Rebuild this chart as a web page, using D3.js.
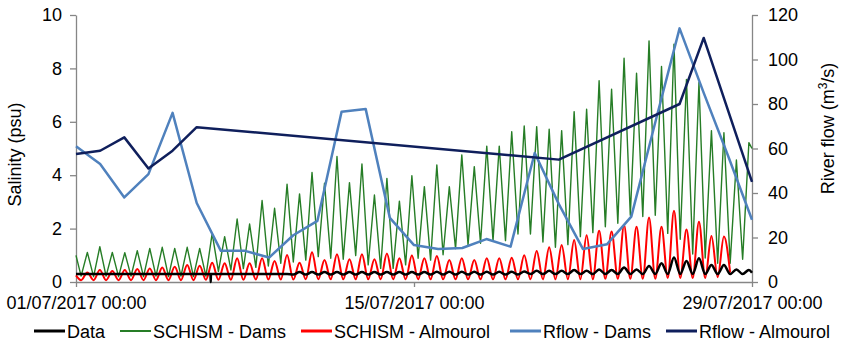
<!DOCTYPE html>
<html><head><meta charset="utf-8">
<script src="https://cdn.jsdelivr.net/npm/d3@7"></script>
<style>
body{margin:0;background:#fff}
svg{display:block}
text{font-family:"Liberation Sans",Arial,sans-serif;fill:#000}
</style>
</head><body>
<svg id="chart" width="850" height="355"></svg>
<script>
// ---------- DATA ----------
const startDate = new Date(Date.UTC(2017, 6, 1));
const xTickDays = [0, 14, 28];
const xTickLabels = ["01/07/2017 00:00", "15/07/2017 00:00", "29/07/2017 00:00"];
const salinityTicks = [0, 2, 4, 6, 8, 10];
const flowTicks = [0, 20, 40, 60, 80, 100, 120];

// tidal extrema sampling (days): first trough and half tidal period
const tideFirstTroughDay = 0.2115;
const tideHalfPeriodDay = 0.2585;

// SCHISM - Dams (green)
const damsStart = 1.0, damsEnd = 5.0;
const damsTroughs = [0.22,0.2,0.22,0.2,0.22,0.2,0.22,0.2,0.22,0.2,0.22,0.4,0.45,0.5,0.55,0.6,0.7,0.75,0.82,0.95,
  0.89,0.85,0.99,0.64,0.51,0.51,0.64,0.89,0.82,1.02,1.25,1.39,1.45,1.55,1.55,1.8,1.8,1.5,1.3,1.4,
  1.7,1.85,2.07,2.2,2.5,2.45,2.5,1.82,1.6,1.05,0.9,0.7,0.7,0.85];
const damsPeaks = [1.11,1.32,1.11,1.10,1.17,1.26,1.30,1.26,1.30,1.26,1.82,1.70,2.36,2.17,3.05,2.76,3.66,3.30,4.10,3.70,
  4.70,3.72,4.42,3.26,3.88,3.03,3.98,3.57,4.38,3.57,4.76,4.32,5.09,5.09,5.63,5.84,5.82,5.72,5.67,6.38,
  6.47,7.54,7.22,8.38,7.82,9.03,8.07,8.91,7.59,7.47,5.67,5.59,4.57,5.22];

// SCHISM - Almourol (red)
const almStart = 0.25;
const almTroughs = [0.07,0.07,0.07,0.07,0.07,0.07,0.07,0.07,0.07,0.07,0.08,0.08,0.08,0.08,0.09,0.09,0.09,0.09,0.1,0.1,
  0.1,0.1,0.1,0.1,0.1,0.1,0.1,0.1,0.1,0.1,0.1,0.1,0.1,0.1,0.1,0.1,0.1,0.1,0.1,0.1,
  0.1,0.1,0.12,0.12,0.12,0.12,0.12,0.15,0.15,0.15,0.15,0.18,0.35];
const almPeaks = [0.36,0.45,0.41,0.45,0.49,0.51,0.54,0.57,0.64,0.61,0.72,0.70,0.89,0.70,0.89,0.79,1.01,0.72,1.11,0.82,
  1.04,0.85,1.04,0.85,1.07,0.89,0.99,0.89,0.97,0.82,0.89,0.82,0.89,0.89,0.91,1.0,1.16,1.30,1.39,1.57,
  1.75,1.92,1.89,2.13,2.07,2.42,2.07,2.67,1.97,2.26,1.72,1.70];

// Data (black)
const obsStart = 0.3, obsEnd = 0.35;
const obsTroughs = [0.3,0.3,0.3,0.3,0.3,0.3,0.3,0.3,0.3,0.3,0.3,0.3,0.3,0.3,0.3,0.3,0.3,0.28,0.28,0.28,
  0.28,0.28,0.28,0.28,0.28,0.28,0.28,0.28,0.28,0.28,0.28,0.28,0.28,0.28,0.28,0.28,0.3,0.3,0.3,0.3,
  0.3,0.3,0.3,0.3,0.3,0.3,0.3,0.3,0.3,0.3,0.3,0.3,0.3,0.3];
const obsPeaks = [0.3,0.3,0.3,0.3,0.3,0.3,0.3,0.3,0.3,0.3,0.3,0.3,0.3,0.3,0.3,0.3,0.3,0.37,0.37,0.37,
  0.37,0.37,0.37,0.37,0.37,0.37,0.37,0.37,0.38,0.38,0.38,0.38,0.38,0.38,0.38,0.39,0.42,0.42,0.42,0.45,
  0.42,0.47,0.45,0.54,0.47,0.6,0.7,0.92,0.79,0.89,0.64,0.64,0.47,0.45];
const obsGapDays = [5.57, 5.58, 5.59];
const obsGapValues = [0.3, 0.0, 0.3];

// Rflow - Dams (daily)
const flowDamsDays = [0,1,2,3,4,5,6,7,8,9,10,11,12,13,14,15,16,17,18,19,20,21,22,23,24,25,26,27,28];
const flowDamsValues = [61,53,38,48.5,76,35.5,14,14,11,21,27.5,76.5,77.7,28.8,16.6,14.8,15.3,19.3,15.9,58,
  35,14.8,17,29.4,72,114,85,57,28];

// Rflow - Almourol
const flowAlmDays = [0,1,2,3,4,5,20,25,26,28];
const flowAlmValues = [57.5,59,65,51,59,69.6,55,80,109.7,45];

const legendNames = ["Data", "SCHISM - Dams", "SCHISM - Almourol", "Rflow - Dams", "Rflow - Almourol"];
const legendColors = ["#000000", "#267d26", "#ff0000", "#4f81bd", "#0f1f5c"];

// ---------- BUILD ----------
const dayMs = 86400000;
const toDate = d => new Date(startDate.getTime() + d * dayMs);

function tidalSeries(start, troughs, peaks, end, endDay) {
  const pts = [{d: 0, v: start}];
  const n = Math.max(troughs.length, peaks.length);
  let j = 0;
  for (let k = 0; k < n; k++) {
    if (k < troughs.length) { pts.push({d: tideFirstTroughDay + tideHalfPeriodDay * j, v: troughs[k]}); }
    j++;
    if (k < peaks.length) { pts.push({d: tideFirstTroughDay + tideHalfPeriodDay * j, v: peaks[k]}); }
    j++;
  }
  if (end !== undefined) pts.push({d: endDay, v: end});
  return pts;
}

const damsPts = tidalSeries(damsStart, damsTroughs, damsPeaks, damsEnd, 28);
const almPts = tidalSeries(almStart, almTroughs, almPeaks);
let obsPts = tidalSeries(obsStart, obsTroughs, obsPeaks, obsEnd, 28);
obsGapDays.forEach((d, i) => obsPts.push({d, v: obsGapValues[i]}));
obsPts.sort((a, b) => a.d - b.d);
const flowDamsPts = flowDamsDays.map((d, i) => ({d, v: flowDamsValues[i]}));
const flowAlmPts = flowAlmDays.map((d, i) => ({d, v: flowAlmValues[i]}));

const svg = d3.select("#chart");
const L = 76, R = 752, T = 15, B = 282;

const x = d3.scaleUtc().domain([toDate(0), toDate(28)]).range([L, R]);
const ySal = d3.scaleLinear().domain([0, 10]).range([B, T]);
const yFlow = d3.scaleLinear().domain([0, 120]).range([B, T]);

const axisColor = "#868686";
const fs = 18;

// axes
const gL = svg.append("g").attr("transform", `translate(${L},0)`)
  .call(d3.axisLeft(ySal).tickValues(salinityTicks).tickSize(6).tickSizeOuter(0).tickPadding(8));
const gR = svg.append("g").attr("transform", `translate(${R},0)`)
  .call(d3.axisRight(yFlow).tickValues(flowTicks).tickSize(6).tickSizeOuter(0).tickPadding(10));
const gX = svg.append("g").attr("transform", `translate(0,${B})`)
  .call(d3.axisBottom(x).tickValues(xTickDays.map(toDate)).tickSize(5).tickSizeOuter(0).tickPadding(9)
    .tickFormat((d, i) => xTickLabels[i]));
[gL, gR, gX].forEach(g => {
  g.selectAll(".domain").attr("stroke", axisColor).attr("stroke-width", 1.3);
  g.selectAll(".tick line").attr("stroke", axisColor).attr("stroke-width", 1.3);
  g.selectAll(".tick text").attr("font-size", fs).attr("font-family", '"Liberation Sans",Arial,sans-serif').attr("fill", "#000");
});

// axis titles
svg.append("text").attr("transform", `translate(21,${(T + B) / 2 + 6}) rotate(-90)`)
  .attr("text-anchor", "middle").attr("font-size", fs).text("Salinity (psu)");
const rt = svg.append("text").attr("transform", `translate(834,${(T + B) / 2 - 20}) rotate(-90)`)
  .attr("text-anchor", "middle").attr("font-size", fs);
rt.append("tspan").text("River flow (m");
rt.append("tspan").attr("font-size", 12).attr("dy", -7).text("3");
rt.append("tspan").attr("dy", 7).text("/s)");

// lines
const damsLine = d3.line().x(p => x(toDate(p.d))).y(p => ySal(p.v)).curve(d3.curveLinear);
const salLine = d3.line().x(p => x(toDate(p.d))).y(p => ySal(p.v)).curve(d3.curveMonotoneX);
const flowLine = d3.line().x(p => x(toDate(p.d))).y(p => yFlow(p.v));

svg.append("path").datum(damsPts).attr("d", damsLine).attr("fill", "none")
  .attr("stroke", legendColors[1]).attr("stroke-width", 1.4).attr("stroke-linejoin", "round");
svg.append("path").datum(almPts).attr("d", salLine).attr("fill", "none")
  .attr("stroke", legendColors[2]).attr("stroke-width", 2).attr("stroke-linejoin", "round");
svg.append("path").datum(obsPts).attr("d", salLine).attr("fill", "none")
  .attr("stroke", legendColors[0]).attr("stroke-width", 2.5).attr("stroke-linejoin", "round");
svg.append("path").datum(flowDamsPts).attr("d", flowLine).attr("fill", "none")
  .attr("stroke", legendColors[3]).attr("stroke-width", 2.5).attr("stroke-linejoin", "round");
svg.append("path").datum(flowAlmPts).attr("d", flowLine).attr("fill", "none")
  .attr("stroke", legendColors[4]).attr("stroke-width", 2.5).attr("stroke-linejoin", "round");

// legend
const legendX = [34, 120, 301, 510, 666];
const legendY = 331;
const lg = svg.append("g");
legendNames.forEach((name, i) => {
  lg.append("line").attr("x1", legendX[i]).attr("x2", legendX[i] + 31)
    .attr("y1", legendY).attr("y2", legendY)
    .attr("stroke", legendColors[i]).attr("stroke-width", i === 1 ? 2 : 3);
  lg.append("text").attr("x", legendX[i] + 33).attr("y", legendY + 6.5)
    .attr("font-size", fs).text(name);
});
</script>
</body></html>
